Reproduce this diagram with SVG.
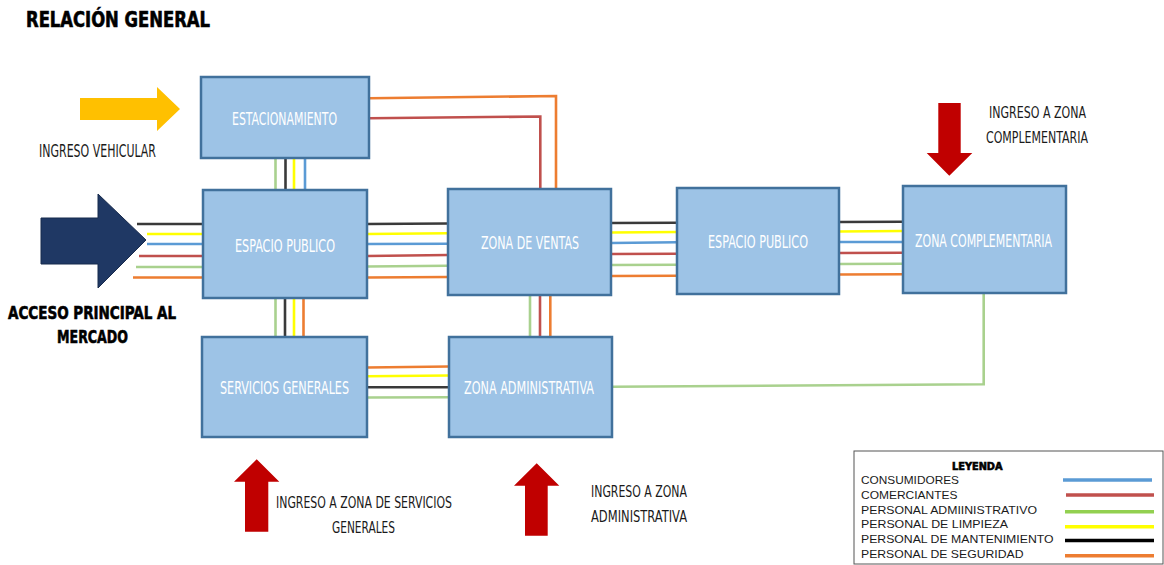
<svg xmlns="http://www.w3.org/2000/svg" width="1164" height="565" viewBox="0 0 1164 565">
<style>
.box{fill:#9DC3E6;stroke:#41719C;stroke-width:2.5}
.bt{font-family:"DejaVu Sans Condensed","Liberation Sans",sans-serif;font-size:18px;fill:#ffffff}
.lb{font-family:"DejaVu Sans Condensed","Liberation Sans",sans-serif;fill:#1a1a1a}
.bold{font-weight:bold;fill:#000;stroke:#000;stroke-width:0.6}
.lg{font-family:"Liberation Sans",Arial,sans-serif;font-size:10.5px;fill:#1a1a1a}
.ln{fill:none;stroke-width:2.6}
.k{stroke:#3a3a3a}.y{stroke:#FFFF00}.b{stroke:#5B9BD5}.r{stroke:#C0504D}.g{stroke:#A9D18E}.o{stroke:#ED7D31}
.red{fill:#C00000}
</style>
<rect width="1164" height="565" fill="#ffffff"/>
<text x="26" y="27" class="lb bold" font-size="21" textLength="184" lengthAdjust="spacingAndGlyphs" stroke-width="0.9">RELACIÓN GENERAL</text>

<g id="connectors">
<line class="ln k" x1="137" y1="224" x2="204" y2="224"/>
<line class="ln y" x1="147" y1="234" x2="204" y2="234"/>
<line class="ln b" x1="147" y1="244" x2="204" y2="244"/>
<line class="ln r" x1="139" y1="256" x2="204" y2="256"/>
<line class="ln g" x1="136" y1="267" x2="204" y2="267"/>
<line class="ln o" x1="133" y1="277.5" x2="204" y2="277.5"/>
<line class="ln k" x1="367" y1="224" x2="448" y2="223.5"/>
<line class="ln y" x1="367" y1="234" x2="448" y2="233.3"/>
<line class="ln b" x1="367" y1="244" x2="448" y2="243.7"/>
<line class="ln r" x1="367" y1="256" x2="448" y2="255"/>
<line class="ln g" x1="367" y1="266.5" x2="448" y2="265.7"/>
<line class="ln o" x1="367" y1="277.5" x2="448" y2="277"/>
<line class="ln k" x1="611" y1="223" x2="677" y2="222.7"/>
<line class="ln y" x1="611" y1="232.5" x2="677" y2="232"/>
<line class="ln b" x1="611" y1="243" x2="677" y2="242.3"/>
<line class="ln r" x1="611" y1="254" x2="677" y2="253.7"/>
<line class="ln g" x1="611" y1="265" x2="677" y2="264.7"/>
<line class="ln o" x1="611" y1="276" x2="677" y2="275.7"/>
<line class="ln k" x1="839" y1="222" x2="903" y2="221.7"/>
<line class="ln y" x1="839" y1="231.5" x2="903" y2="231"/>
<line class="ln b" x1="839" y1="242" x2="903" y2="242"/>
<line class="ln r" x1="839" y1="253" x2="903" y2="252.7"/>
<line class="ln g" x1="839" y1="264" x2="903" y2="263.7"/>
<line class="ln o" x1="839" y1="274.5" x2="903" y2="274.3"/>
<line class="ln g" x1="275.5" y1="158" x2="275.5" y2="190"/>
<line class="ln k" x1="285.5" y1="158" x2="285.5" y2="190"/>
<line class="ln y" x1="294" y1="158" x2="294" y2="190"/>
<line class="ln b" x1="305" y1="158" x2="305" y2="190"/>
<line class="ln g" x1="275.5" y1="298" x2="275.5" y2="337"/>
<line class="ln k" x1="285" y1="298" x2="285" y2="337"/>
<line class="ln y" x1="294" y1="298" x2="294" y2="337"/>
<line class="ln o" x1="303.5" y1="298" x2="303.5" y2="337"/>
<line class="ln g" x1="530" y1="295" x2="530" y2="337"/>
<line class="ln r" x1="540" y1="295" x2="540" y2="337"/>
<line class="ln o" x1="550.3" y1="295" x2="550.3" y2="337"/>
<line class="ln o" x1="367" y1="367.5" x2="449" y2="366.5"/>
<line class="ln y" x1="367" y1="376.3" x2="449" y2="375.5"/>
<line class="ln k" x1="367" y1="387.3" x2="449" y2="387.3"/>
<line class="ln g" x1="367" y1="397.5" x2="449" y2="397.3"/>
<polyline class="ln o" points="369,98.3 556,96 556,189"/>
<polyline class="ln r" points="369,118.3 540.3,116.5 540.3,189"/>
<polyline class="ln g" points="612,386.7 983.7,384.3 983.7,293"/>
</g>

<g id="arrow-vehicular">
<polygon points="80,98 157,98 157,87 180,109 157,131 157,120 80,120" fill="#FFC000"/>
<text x="39" y="157" class="lb" font-size="17" textLength="117" lengthAdjust="spacingAndGlyphs">INGRESO VEHICULAR</text>
</g>
<g id="arrow-principal">
<polygon points="41,218 98,218 98,194 146,240 98,288 98,264 41,264" fill="#1F3864" stroke="#172a4c" stroke-width="1"/>
<text x="8" y="319" class="lb bold" font-size="18" textLength="168" lengthAdjust="spacingAndGlyphs">ACCESO PRINCIPAL AL</text>
<text x="57" y="343" class="lb bold" font-size="18" textLength="71" lengthAdjust="spacingAndGlyphs">MERCADO</text>
</g>
<g id="arrow-complementaria">
<polygon class="red" points="938.3,103 960.7,103 960.7,153 972.3,153 949.3,175.7 926.7,153 938.3,153"/>
<text x="989" y="118" class="lb" font-size="16" textLength="97" lengthAdjust="spacingAndGlyphs">INGRESO A ZONA</text>
<text x="986" y="143" class="lb" font-size="16" textLength="102" lengthAdjust="spacingAndGlyphs">COMPLEMENTARIA</text>
</g>
<g id="arrow-servicios">
<polygon class="red" points="256.7,459.3 279.3,481.7 268.3,481.7 268.3,531.7 245,531.7 245,481.7 234,481.7"/>
<text x="276" y="508" class="lb" font-size="15.5" textLength="176" lengthAdjust="spacingAndGlyphs">INGRESO A ZONA DE SERVICIOS</text>
<text x="332" y="533" class="lb" font-size="15.5" textLength="63" lengthAdjust="spacingAndGlyphs">GENERALES</text>
</g>
<g id="arrow-administrativa">
<polygon class="red" points="536.7,463.3 559.3,485.7 547.7,485.7 547.7,535.7 525,535.7 525,485.7 514,485.7"/>
<text x="591" y="497" class="lb" font-size="15.5" textLength="96" lengthAdjust="spacingAndGlyphs">INGRESO A ZONA</text>
<text x="591" y="522" class="lb" font-size="15.5" textLength="96" lengthAdjust="spacingAndGlyphs">ADMINISTRATIVA</text>
</g>

<g id="estacionamiento">
<rect class="box" x="201" y="77" width="168" height="81"/>
<text x="232" y="125" class="bt" textLength="105" lengthAdjust="spacingAndGlyphs">ESTACIONAMIENTO</text>
</g>
<g id="espacio-publico-1">
<rect class="box" x="203" y="190" width="164" height="108"/>
<text x="235" y="252" class="bt" textLength="100" lengthAdjust="spacingAndGlyphs">ESPACIO PUBLICO</text>
</g>
<g id="zona-ventas">
<rect class="box" x="448" y="189" width="163" height="106"/>
<text x="481" y="249" class="bt" textLength="98" lengthAdjust="spacingAndGlyphs">ZONA DE VENTAS</text>
</g>
<g id="espacio-publico-2">
<rect class="box" x="677" y="188" width="162" height="106"/>
<text x="708" y="248" class="bt" textLength="100" lengthAdjust="spacingAndGlyphs">ESPACIO PUBLICO</text>
</g>
<g id="zona-complementaria">
<rect class="box" x="903" y="186" width="163" height="107"/>
<text x="915" y="247" class="bt" textLength="137" lengthAdjust="spacingAndGlyphs">ZONA COMPLEMENTARIA</text>
</g>
<g id="servicios-generales">
<rect class="box" x="202" y="337" width="165" height="100"/>
<text x="220" y="394" class="bt" textLength="129" lengthAdjust="spacingAndGlyphs">SERVICIOS GENERALES</text>
</g>
<g id="zona-administrativa">
<rect class="box" x="449" y="337" width="163" height="100"/>
<text x="464" y="394" class="bt" textLength="130" lengthAdjust="spacingAndGlyphs">ZONA ADMINISTRATIVA</text>
</g>

<g id="leyenda">
<rect x="854" y="451" width="309" height="113" fill="#ffffff" stroke="#555" stroke-width="1"/>
<text x="952" y="469.5" class="lb bold" font-size="10.5" stroke-width="0.4" textLength="50.5" lengthAdjust="spacingAndGlyphs">LEYENDA</text>
<text x="861" y="484" class="lg" textLength="98" lengthAdjust="spacingAndGlyphs">CONSUMIDORES</text>
<text x="861" y="498.5" class="lg" textLength="96.5" lengthAdjust="spacingAndGlyphs">COMERCIANTES</text>
<text x="861" y="513.5" class="lg" textLength="176" lengthAdjust="spacingAndGlyphs">PERSONAL ADMIINISTRATIVO</text>
<text x="861" y="527.8" class="lg" textLength="147" lengthAdjust="spacingAndGlyphs">PERSONAL DE LIMPIEZA</text>
<text x="861" y="542.5" class="lg" textLength="192.5" lengthAdjust="spacingAndGlyphs">PERSONAL DE MANTENIMIENTO</text>
<text x="861" y="557.5" class="lg" textLength="162.5" lengthAdjust="spacingAndGlyphs">PERSONAL DE SEGURIDAD</text>
<line x1="1063" y1="480" x2="1152" y2="480" stroke="#5B9BD5" stroke-width="3.5"/>
<line x1="1066" y1="495" x2="1154" y2="495" stroke="#C0504D" stroke-width="3.5"/>
<line x1="1065" y1="511.7" x2="1154" y2="511.7" stroke="#92D050" stroke-width="3.5"/>
<line x1="1065" y1="526.7" x2="1154" y2="526.7" stroke="#FFFF00" stroke-width="3.5"/>
<line x1="1065" y1="540.5" x2="1154" y2="540.5" stroke="#000000" stroke-width="3.5"/>
<line x1="1065" y1="555.7" x2="1154" y2="555.7" stroke="#ED7D31" stroke-width="3.5"/>
</g>
</svg>
